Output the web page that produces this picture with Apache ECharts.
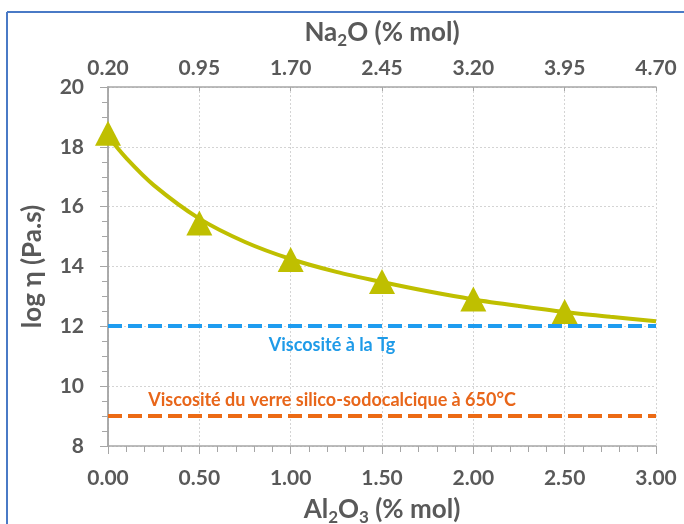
<!DOCTYPE html>
<html>
<head>
<meta charset="utf-8">
<script src="https://cdn.jsdelivr.net/npm/echarts@6/dist/echarts.min.js"></script>
<style>html,body{margin:0;padding:0;background:#fff;}#c{width:684px;height:524px;}</style>
</head>
<body>
<div id="c"></div>
<script>
// Measured points (Al2O3 % mol, log viscosity)
const pointX = [0, 0.5, 1.0, 1.5, 2.0, 2.5];
const pointY = [18.45, 15.45, 14.23, 13.5, 12.91, 12.5];
// Fitted curve
const curveX = [0, 0.1, 0.25, 0.5, 0.75, 1.0, 1.25, 1.5, 1.75, 2.0, 2.25, 2.5, 2.75, 3.0];
const curveY = [18.35, 17.62, 16.72, 15.6, 14.82, 14.25, 13.82, 13.48, 13.17, 12.9, 12.68, 12.48, 12.32, 12.17];
// Reference levels
const tgLevel = 12.03;
const glassLevel = 9.0;
const tgLabel = 'Viscosité à la Tg';
const glassLabel = 'Viscosité du verre silico-sodocalcique à 650°C';
// Axis ranges / ticks
const topTickLabels = ['0.20', '0.95', '1.70', '2.45', '3.20', '3.95', '4.70'];
const xMin = 0, xMax = 3, xStep = 0.5;
const yMin = 8, yMax = 20, yStep = 2;

const FONT = 'Lato';
const GREY = '#595959';
const AXC = '#a6a6a6';

const chart = echarts.init(document.getElementById('c'), null, {renderer: 'canvas'});
const subRich = (size) => ({
  t: {fontSize: size, fontWeight: 'bold', color: GREY, fontFamily: FONT, lineHeight: 32, verticalAlign: 'middle'},
  s: {fontSize: Math.round(size * 0.65), fontWeight: 'bold', color: GREY, fontFamily: FONT, verticalAlign: 'bottom'}
});
const tickFont = {fontSize: 21, fontWeight: 'bold', color: GREY, fontFamily: FONT};

chart.setOption({
  animation: false,
  backgroundColor: '#fff',
  grid: {left: 108, right: 28, top: 87, bottom: 78, outerBoundsMode: 'none', containLabel: false},
  graphic: [
    {type: 'line', shape: {x1: 7, y1: 12, x2: 684, y2: 12}, style: {stroke: '#4a7ac6', lineWidth: 2}, silent: true},
    {type: 'line', shape: {x1: 7, y1: 12, x2: 7, y2: 524}, style: {stroke: '#4a7ac6', lineWidth: 2}, silent: true}
  ],
  xAxis: [{
    type: 'value', position: 'bottom', min: xMin, max: xMax, interval: xStep,
    axisLine: {show: true, lineStyle: {color: AXC, width: 1.5}},
    axisTick: {show: false},
    minorTick: {show: true, splitNumber: 5, length: 6, lineStyle: {color: AXC}},
    splitLine: {show: true, lineStyle: {color: '#d4d4d4', type: [2, 2], width: 1}},
    axisLabel: Object.assign({margin: 22, formatter: v => v.toFixed(2)}, tickFont),
    name: '{t|Al}{s|2}{t|O}{s|3}{t| (% mol)}', nameLocation: 'middle', nameGap: 48,
    nameTextStyle: {rich: subRich(26)}
  }, {
    type: 'value', position: 'top', min: xMin, max: xMax, interval: xStep,
    axisLine: {show: true, lineStyle: {color: AXC, width: 1.5}},
    axisTick: {show: true, inside: true, length: 4, lineStyle: {color: AXC}},
    splitLine: {show: false},
    axisLabel: Object.assign({margin: 8, formatter: (v) => topTickLabels[Math.round(v / xStep)]}, tickFont),
    name: '{t|Na}{s|2}{t|O (% mol)}', nameLocation: 'middle', nameGap: 38,
    nameTextStyle: {rich: subRich(26)}
  }, {
    type: 'value', position: 'bottom', min: xMin, max: xMax, interval: xStep,
    axisLine: {show: false}, axisLabel: {show: false}, splitLine: {show: false},
    axisTick: {show: true, inside: false, length: 8, lineStyle: {color: AXC}}
  }],
  yAxis: [{
    type: 'value', position: 'left', min: yMin, max: yMax, interval: yStep,
    axisLine: {show: true, lineStyle: {color: AXC, width: 1.5}},
    axisTick: {show: false},
    minorTick: {show: true, splitNumber: 4, length: 6, lineStyle: {color: AXC}},
    splitLine: {show: true, lineStyle: {color: '#d4d4d4', type: [2, 2], width: 1}},
    axisLabel: Object.assign({margin: 24}, tickFont),
    name: 'log η (Pa.s)', nameLocation: 'middle', nameGap: 62,
    nameTextStyle: {fontSize: 26, fontWeight: 'bold', color: GREY, fontFamily: FONT}
  }, {
    type: 'value', position: 'left', min: yMin, max: yMax, interval: yStep,
    axisLine: {show: false}, axisLabel: {show: false}, splitLine: {show: false},
    axisTick: {show: true, inside: false, length: 8, lineStyle: {color: AXC}}
  }, {
    type: 'value', position: 'right', min: yMin, max: yMax, interval: yStep,
    axisLine: {show: true, lineStyle: {color: AXC, width: 1.5}},
    axisLabel: {show: false}, splitLine: {show: false}, axisTick: {show: false}
  }],
  series: [{
    type: 'line', name: 'fit', xAxisIndex: 0, yAxisIndex: 0,
    data: curveX.map((x, i) => [x, curveY[i]]),
    smooth: 0.3, showSymbol: false, symbol: 'none',
    lineStyle: {color: '#bfbf00', width: 4},
    z: 3,
    markLine: {
      silent: true, symbol: 'none',
      data: [
        {yAxis: tgLevel, lineStyle: {color: '#1e9cf0', width: 4, type: [14, 6]},
         label: {show: true, position: 'insideMiddleBottom', distance: 11, offset: [-50, 0], formatter: tgLabel,
                 color: '#1f9be8', fontSize: 18, fontWeight: 'bold', fontFamily: FONT}},
        {yAxis: glassLevel, lineStyle: {color: '#ec6a14', width: 4, type: [14, 6]},
         label: {show: true, position: 'insideMiddleTop', distance: 7, offset: [-50, 0], formatter: glassLabel,
                 color: '#e8661a', fontSize: 18, fontWeight: 'bold', fontFamily: FONT}}
      ]
    }
  }, {
    type: 'scatter', name: 'points', xAxisIndex: 0, yAxisIndex: 0,
    data: pointX.map((x, i) => [x, pointY[i]]),
    symbol: 'triangle', symbolSize: [26, 25],
    itemStyle: {color: '#bfbf00', opacity: 1}, z: 4
  }]
});
</script>
</body>
</html>
